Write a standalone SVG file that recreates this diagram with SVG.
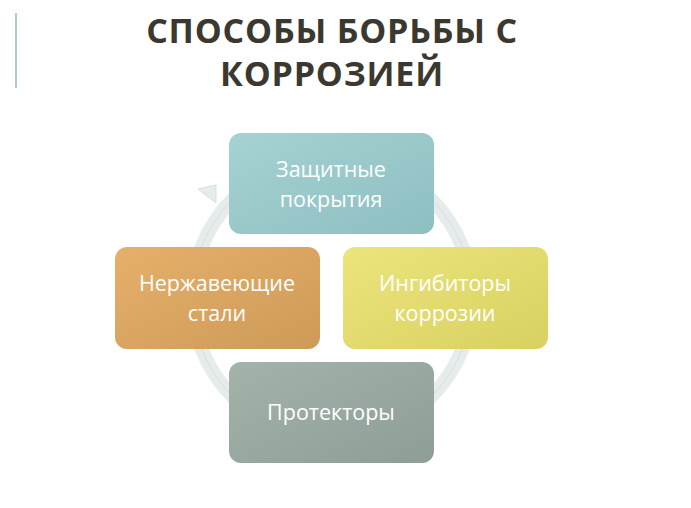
<svg xmlns="http://www.w3.org/2000/svg" width="691" height="508" viewBox="0 0 691 508">
<style>
.t{font-family:"Open Sans","DejaVu Sans",sans-serif;font-weight:bold;font-size:34px;fill:#3b392f;text-anchor:middle;letter-spacing:0.8px}
.l{font-family:"Open Sans","DejaVu Sans",sans-serif;font-size:21.5px;fill:#fff;text-anchor:middle}
.b{stroke:none}
</style>
<defs>
<linearGradient id="g1" x1="0" y1="0" x2="1" y2="1"><stop offset="0" stop-color="#a6d2d2"/><stop offset="1" stop-color="#8dbfc1"/></linearGradient>
<linearGradient id="g2" x1="0" y1="0" x2="1" y2="1"><stop offset="0" stop-color="#e6b06a"/><stop offset="1" stop-color="#cd9a58"/></linearGradient>
<linearGradient id="g3" x1="0" y1="0" x2="1" y2="1"><stop offset="0" stop-color="#ece57c"/><stop offset="1" stop-color="#d8d060"/></linearGradient>
<linearGradient id="g4" x1="0" y1="0" x2="1" y2="1"><stop offset="0" stop-color="#a4b3aa"/><stop offset="1" stop-color="#8e9e96"/></linearGradient>
</defs>
<rect x="0" y="0" width="691" height="508" fill="#fff"/>
<line x1="16" y1="13" x2="16" y2="88" stroke="#8fbcc0" stroke-width="1.5"/>
<text class="t" x="332" y="43">СПОСОБЫ БОРЬБЫ С</text>
<text class="t" x="332" y="86">КОРРОЗИЕЙ</text>
<g id="connectors">
<circle cx="332" cy="298" r="140" fill="none" stroke="#e6ecec" stroke-width="14"/>
<circle cx="332" cy="298" r="140" fill="none" stroke="#d6dfdf" stroke-width="1"/>
<path d="M198,189 L216,185 L216,203 Z" fill="#e6ecec" stroke="#d6dfdf"/>
</g>
<g id="n1"><rect class="b" x="229" y="133" width="205" height="101" rx="12" fill="url(#g1)"/><text class="l" x="331" y="177">Защитные</text><text class="l" x="331" y="207">покрытия</text></g>
<g id="n2"><rect class="b" x="343" y="247" width="205" height="102" rx="12" fill="url(#g3)"/><text class="l" x="445" y="291">Ингибиторы</text><text class="l" x="445" y="321">коррозии</text></g>
<g id="n3"><rect class="b" x="229" y="362" width="205" height="101" rx="12" fill="url(#g4)"/><text class="l" x="331" y="420">Протекторы</text></g>
<g id="n4"><rect class="b" x="115" y="247" width="205" height="102" rx="12" fill="url(#g2)"/><text class="l" x="217" y="291">Нержавеющие</text><text class="l" x="217" y="321">стали</text></g>
</svg>
